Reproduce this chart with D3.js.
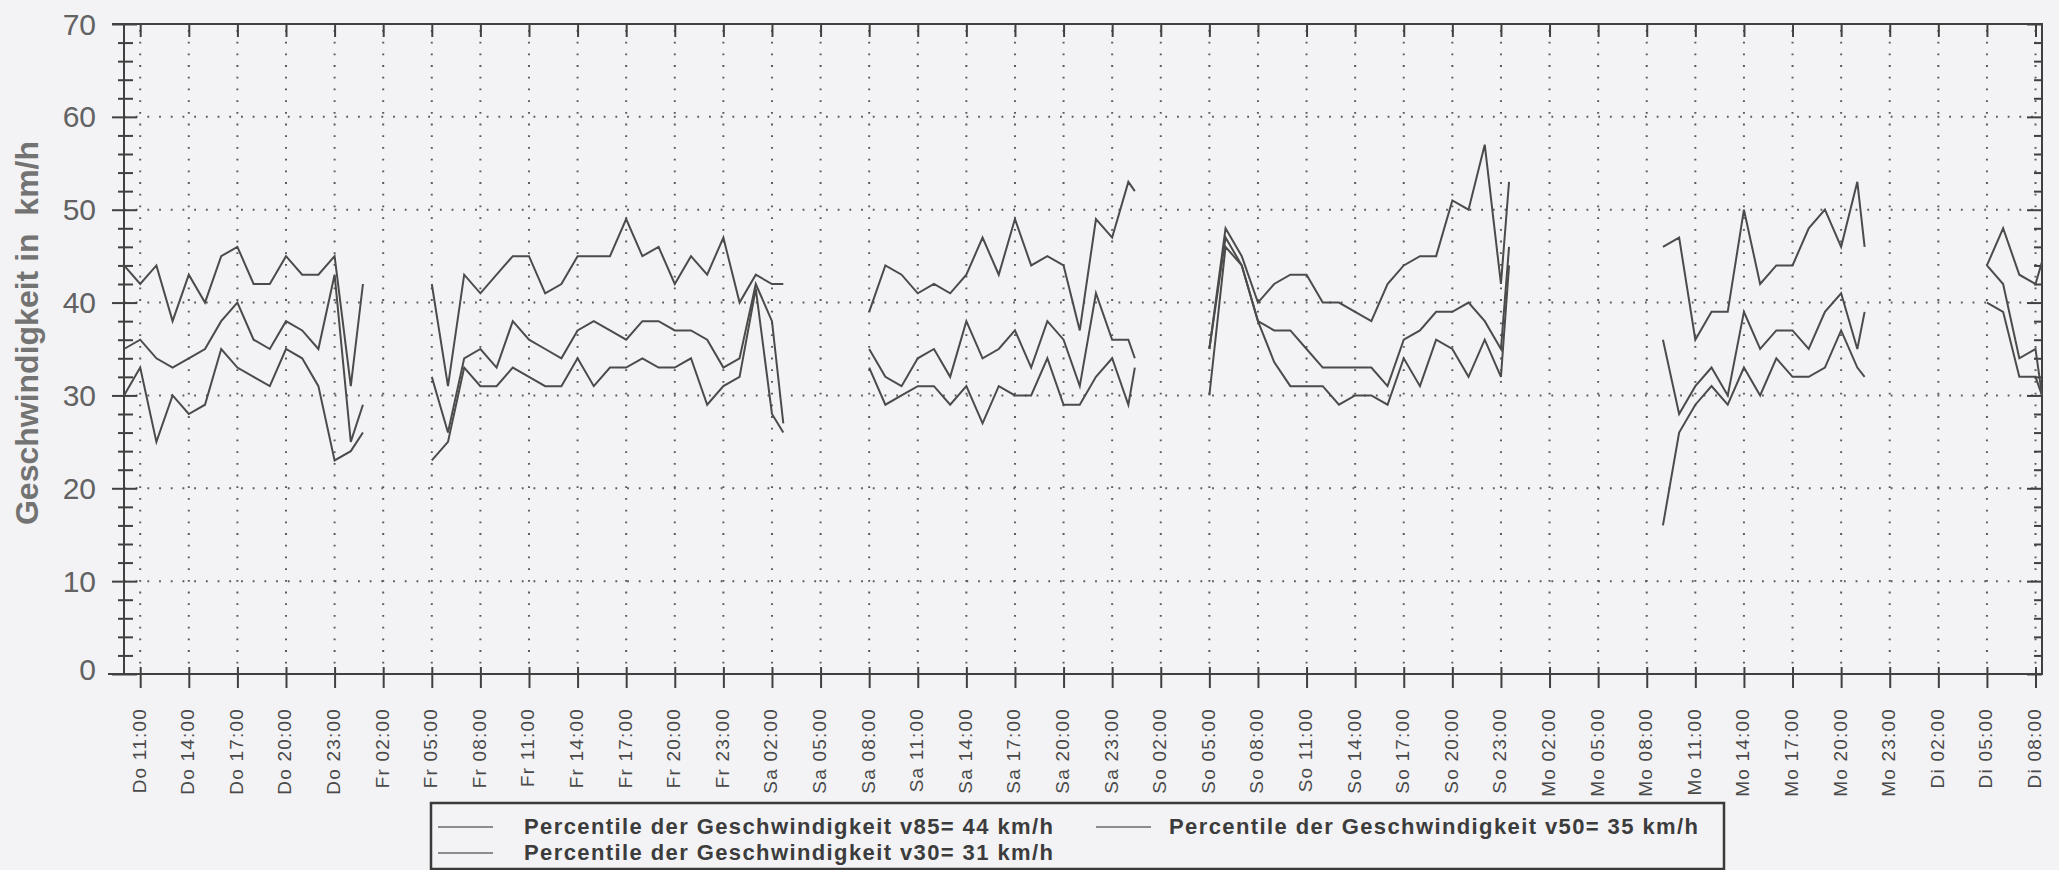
<!DOCTYPE html>
<html><head><meta charset="utf-8">
<script src="https://cdn.jsdelivr.net/npm/d3@7"></script>
<style>
html,body{margin:0;padding:0;background:#f3f3f5;}
svg{display:block;}
text{font-family:"Liberation Sans",Arial,sans-serif;}
</style></head><body>
<svg id="chart" width="2059" height="870"></svg>
<script>
// ---- data (hours counted from Do 00:00; null = no measurement) ----
const hours = [
  10,11,12,13,14,15,16,17,18,19,20,21,22,23,24,24.75, 27,
  29,30,31,32,33,34,35,36,37,38,39,40,41,42,43,44,45,46,47,48,49,50,50.7, 53,
  56,57,58,59,60,61,62,63,64,65,66,67,68,69,70,71,72,72.4, 75,
  77,78,79,80,81,82,83,84,85,86,87,88,89,90,91,92,93,94,95,95.5, 100,
  105,106,107,108,109,110,111,112,113,114,115,116,117,117.45, 121,
  125,126,127,128,128.4
];
const v85 = [
  44,42,44,38,43,40,45,46,42,42,45,43,43,45,31,42, null,
  42,31,43,41,43,45,45,41,42,45,45,45,49,45,46,42,45,43,47,40,43,42,42, null,
  39,44,43,41,42,41,43,47,43,49,44,45,44,37,49,47,53,52, null,
  35,48,45,40,42,43,43,40,40,39,38,42,44,45,45,51,50,57,42,53, null,
  46,47,36,39,39,50,42,44,44,48,50,46,53,46, null,
  44,48,43,42,44.4
];
const v50 = [
  35,36,34,33,34,35,38,40,36,35,38,37,35,43,25,29, null,
  32,26,34,35,33,38,36,35,34,37,38,37,36,38,38,37,37,36,33,34,42,38,27, null,
  35,32,31,34,35,32,38,34,35,37,33,38,36,31,41,36,36,34, null,
  35,47,44,38,37,37,35,33,33,33,33,31,36,37,39,39,40,38,35,46, null,
  36,28,31,33,30,39,35,37,37,35,39,41,35,39, null,
  44,42,34,35,30
];
const v30 = [
  30,33,25,30,28,29,35,33,32,31,35,34,31,23,24,26, null,
  23,25,33,31,31,33,32,31,31,34,31,33,33,34,33,33,34,29,31,32,41.5,28,26, null,
  33,29,30,31,31,29,31,27,31,30,30,34,29,29,32,34,29,33, null,
  30,46,44,38,33.6,31,31,31,29,30,30,29,34,31,36,35,32,36,32,44, null,
  16,26,29,31,29,33,30,34,32,32,33,37,33,32, null,
  40,39,32,32,30
];
const dayNames = ["Do","Fr","Sa","So","Mo","Di"];
const tickLabels = [
  "Do 11:00","Do 14:00","Do 17:00","Do 20:00","Do 23:00",
  "Fr 02:00","Fr 05:00","Fr 08:00","Fr 11:00","Fr 14:00","Fr 17:00","Fr 20:00","Fr 23:00",
  "Sa 02:00","Sa 05:00","Sa 08:00","Sa 11:00","Sa 14:00","Sa 17:00","Sa 20:00","Sa 23:00",
  "So 02:00","So 05:00","So 08:00","So 11:00","So 14:00","So 17:00","So 20:00","So 23:00",
  "Mo 02:00","Mo 05:00","Mo 08:00","Mo 11:00","Mo 14:00","Mo 17:00","Mo 20:00","Mo 23:00",
  "Di 02:00","Di 05:00","Di 08:00"
];
const yTickValues = [0,10,20,30,40,50,60,70];
const seriesNames = [
  "Percentile der Geschwindigkeit v85= 44 km/h",
  "Percentile der Geschwindigkeit v50= 35 km/h",
  "Percentile der Geschwindigkeit v30= 31 km/h"
];
const yTitle = "Geschwindigkeit in  km/h";

// ---- layout ----
const L = 124, R = 2042, T = 24, B = 674;
const svg = d3.select("#chart");
const x = d3.scaleLinear().domain([10, 128.4]).range([L, R]);
const y = d3.scaleLinear().domain([0, 70]).range([B, T]);
const tickHours = tickLabels.map(s => {
  const [d, t] = s.split(" ");
  return dayNames.indexOf(d) * 24 + (+t.split(":")[0]);
});
const axisCol = "#404040";
const gridCol = "#5a5a5a";

// grid
const grid = svg.append("g");
grid.selectAll("line.h").data(yTickValues.filter(v => v > 0 && v < 70)).join("line")
  .attr("x1", L).attr("x2", R).attr("y1", d => y(d)).attr("y2", d => y(d))
  .attr("stroke", gridCol).attr("stroke-width", 2).attr("stroke-dasharray", "1.8 9.9");
grid.selectAll("line.v").data(tickHours).join("line")
  .attr("x1", d => x(d)).attr("x2", d => x(d)).attr("y1", T + 6).attr("y2", B)
  .attr("stroke", gridCol).attr("stroke-width", 2).attr("stroke-dasharray", "1.8 9.9");

// bottom axis
const gx = svg.append("g").attr("transform", `translate(0,${B})`)
  .call(d3.axisBottom(x).tickValues(tickHours).tickSize(14).tickFormat(""));
gx.select(".domain").remove();
gx.selectAll(".tick line").attr("y1", -7).attr("y2", 14).attr("stroke", axisCol).attr("stroke-width", 2);

// top ticks
const gt = svg.append("g").attr("transform", `translate(0,${T})`)
  .call(d3.axisBottom(x).tickValues(tickHours).tickSize(13).tickFormat(""));
gt.select(".domain").remove();
gt.selectAll(".tick line").attr("stroke", axisCol).attr("stroke-width", 2);

// x labels
svg.append("g").selectAll("text").data(tickHours).join("text")
  .attr("transform", (d) => `translate(${x(d) - 1},708) rotate(-90)`)
  .attr("text-anchor", "end").attr("dominant-baseline", "central")
  .attr("font-size", 19).attr("letter-spacing", "1.2px").attr("fill", "#4a4a4a")
  .text((d, i) => tickLabels[i]);

// left axis
const gy = svg.append("g").attr("transform", `translate(${L},0)`)
  .call(d3.axisLeft(y).tickValues(d3.range(0, 71, 2)).tickSize(12).tickFormat(""));
gy.select(".domain").remove();
gy.selectAll(".tick line")
  .attr("x1", d => d % 10 === 0 ? 13 : 9)
  .attr("x2", d => d % 10 === 0 ? -12 : -6)
  .attr("stroke", axisCol).attr("stroke-width", 2);

// right axis
const gr = svg.append("g").attr("transform", `translate(${R},0)`)
  .call(d3.axisLeft(y).tickValues(d3.range(0, 71, 2)).tickSize(8).tickFormat(""));
gr.select(".domain").remove();
gr.selectAll(".tick line").attr("x2", d => d % 10 === 0 ? -15 : -8)
  .attr("stroke", axisCol).attr("stroke-width", 2);

// y labels
svg.append("g").selectAll("text").data(yTickValues).join("text")
  .attr("x", 96).attr("y", d => d === 0 ? y(d) - 5 : y(d))
  .attr("text-anchor", "end").attr("dominant-baseline", "central")
  .attr("font-size", 30).attr("fill", "#626262").text(d => d);

// frame
const frame = svg.append("g").attr("stroke", axisCol).attr("stroke-width", 2);
frame.append("line").attr("x1", 112).attr("x2", R + 1).attr("y1", T).attr("y2", T);
frame.append("line").attr("x1", 108).attr("x2", R + 1).attr("y1", B).attr("y2", B);
frame.append("line").attr("x1", L).attr("x2", L).attr("y1", T).attr("y2", B);
frame.append("line").attr("x1", R).attr("x2", R).attr("y1", T).attr("y2", B);

// y title
svg.append("text").attr("transform", "translate(38,333) rotate(-90)")
  .attr("text-anchor", "middle").attr("font-size", 32).attr("font-weight", "bold")
  .attr("fill", "#737373").style("white-space", "pre").text(yTitle);

// series lines
const series = [v85, v50, v30];
const line = d3.line().defined(d => d.v != null).x(d => x(d.h)).y(d => y(d.v));
svg.append("g").selectAll("path").data(series).join("path")
  .attr("d", s => line(hours.map((h, i) => ({h, v: s[i]}))))
  .attr("fill", "none").attr("stroke", "#4b4b4b").attr("stroke-width", 2)
  .attr("stroke-linejoin", "miter");

// legend
const lg = svg.append("g");
lg.append("rect").attr("x", 431).attr("y", 803).attr("width", 1293).attr("height", 66)
  .attr("fill", "none").attr("stroke", "#3a3a3a").attr("stroke-width", 2.5);
const legPos = [{lx: 438, ly: 827, tx: 524}, {lx: 1096, ly: 827, tx: 1169}, {lx: 438, ly: 853, tx: 524}];
seriesNames.forEach((n, i) => {
  const p = legPos[i];
  lg.append("line").attr("x1", p.lx).attr("x2", p.lx + 55).attr("y1", p.ly).attr("y2", p.ly)
    .attr("stroke", "#6a6a6a").attr("stroke-width", 1.5);
  lg.append("text").attr("x", p.tx).attr("y", p.ly + 7).attr("font-size", 22)
    .attr("font-weight", "bold").attr("letter-spacing", "1.4px").attr("fill", "#3c3c3c").text(n);
});
</script>
</body></html>
